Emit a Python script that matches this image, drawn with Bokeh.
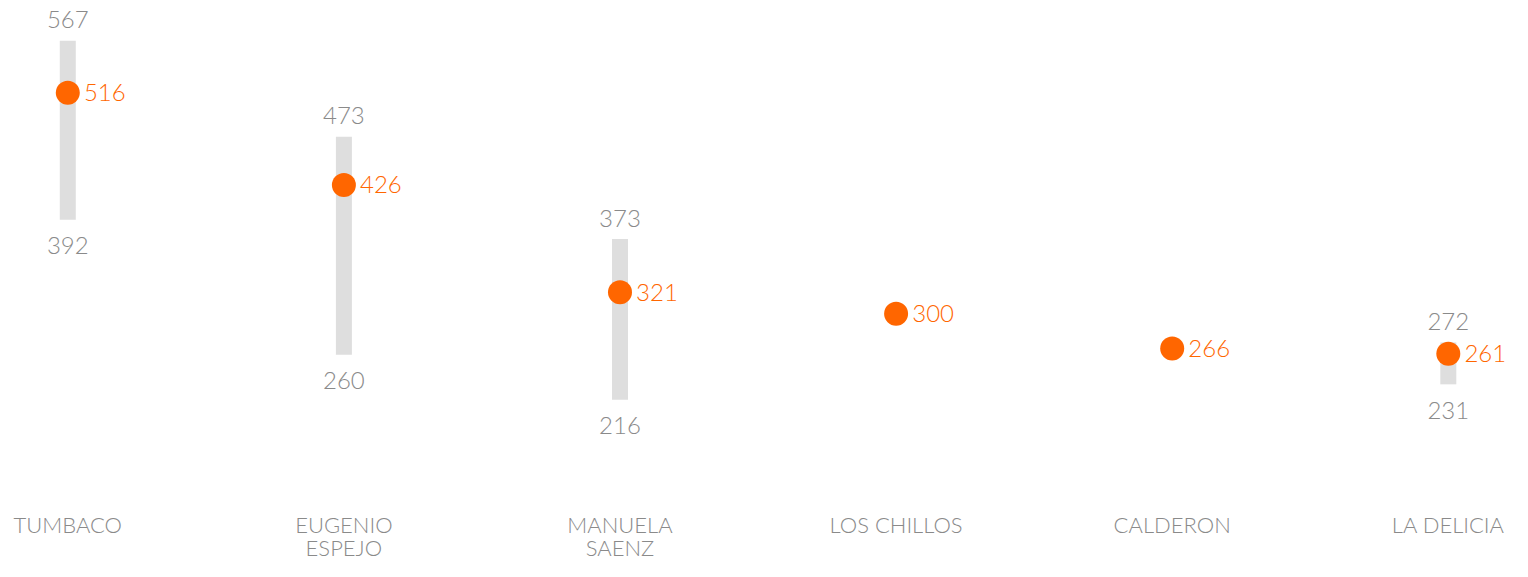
from bokeh.plotting import figure
from bokeh.models import ColumnDataSource, Range1d, LabelSet
from bokeh.core.properties import value
from bokeh.embed import file_html
from bokeh.resources import INLINE

categories = ["TUMBACO", "EUGENIO\nESPEJO", "MANUELA\nSAENZ", "LOS CHILLOS", "CALDERON", "LA DELICIA"]
values = [516, 426, 321, 300, 266, 261]
highs = [567, 473, 373, None, None, 272]
lows = [392, 260, 216, None, None, 231]

ORANGE = "#ff6600"
GRAY_TXT = "#8a8a8a"
BAR = "#dedede"
FONT = "Lato Light, Lato"

xs = list(range(len(categories)))
line1 = [c.split("\n")[0] for c in categories]
line2 = [c.split("\n")[1] if "\n" in c else "" for c in categories]
main = ColumnDataSource(dict(x=xs, v=values, vt=[str(v) for v in values], l1=line1, l2=line2))
idx = [i for i in xs if highs[i] is not None]
rng = ColumnDataSource(dict(
    x=[xs[i] for i in idx],
    hi=[highs[i] for i in idx],
    lo=[lows[i] for i in idx],
    hit=[str(highs[i]) for i in idx],
    lot=[str(lows[i]) for i in idx],
))

p = figure(width=1512, height=561, output_backend="svg", toolbar_location=None,
           x_range=Range1d(-0.2437, 5.2325), y_range=Range1d(57.8, 606.3),
           min_border=0)
p.axis.visible = False
p.grid.visible = False
p.outline_line_color = None
p.background_fill_color = "white"
p.border_fill_color = "white"

p.segment(x0="x", y0="lo", x1="x", y1="hi", source=rng, line_width=16,
          line_color=BAR, line_cap="butt")
p.scatter(x="x", y="v", source=main, size=24, fill_color=ORANGE, line_color=None)

p.text(x="x", y="v", text="vt", source=main, text_align="center", text_baseline="middle",
       x_offset=37, text_color=ORANGE, text_font=value(FONT), text_font_size="24px")
p.text(x="x", y="hi", text="hit", source=rng, text_align="center", text_baseline="middle",
       y_offset=-21, text_color=GRAY_TXT, text_font=value(FONT), text_font_size="24px")
p.text(x="x", y="lo", text="lot", source=rng, text_align="center", text_baseline="middle",
       y_offset=26, text_color=GRAY_TXT, text_font=value(FONT), text_font_size="24px")

for col, ys in (("l1", 37), ("l2", 14)):
    p.add_layout(LabelSet(x="x", y=ys, y_units="screen", text=col, source=main,
                          text_align="center", text_baseline="middle", text_color=GRAY_TXT,
                          text_font=value(FONT), text_font_size="22px"))

open("out.html", "w").write(file_html(p, INLINE))
